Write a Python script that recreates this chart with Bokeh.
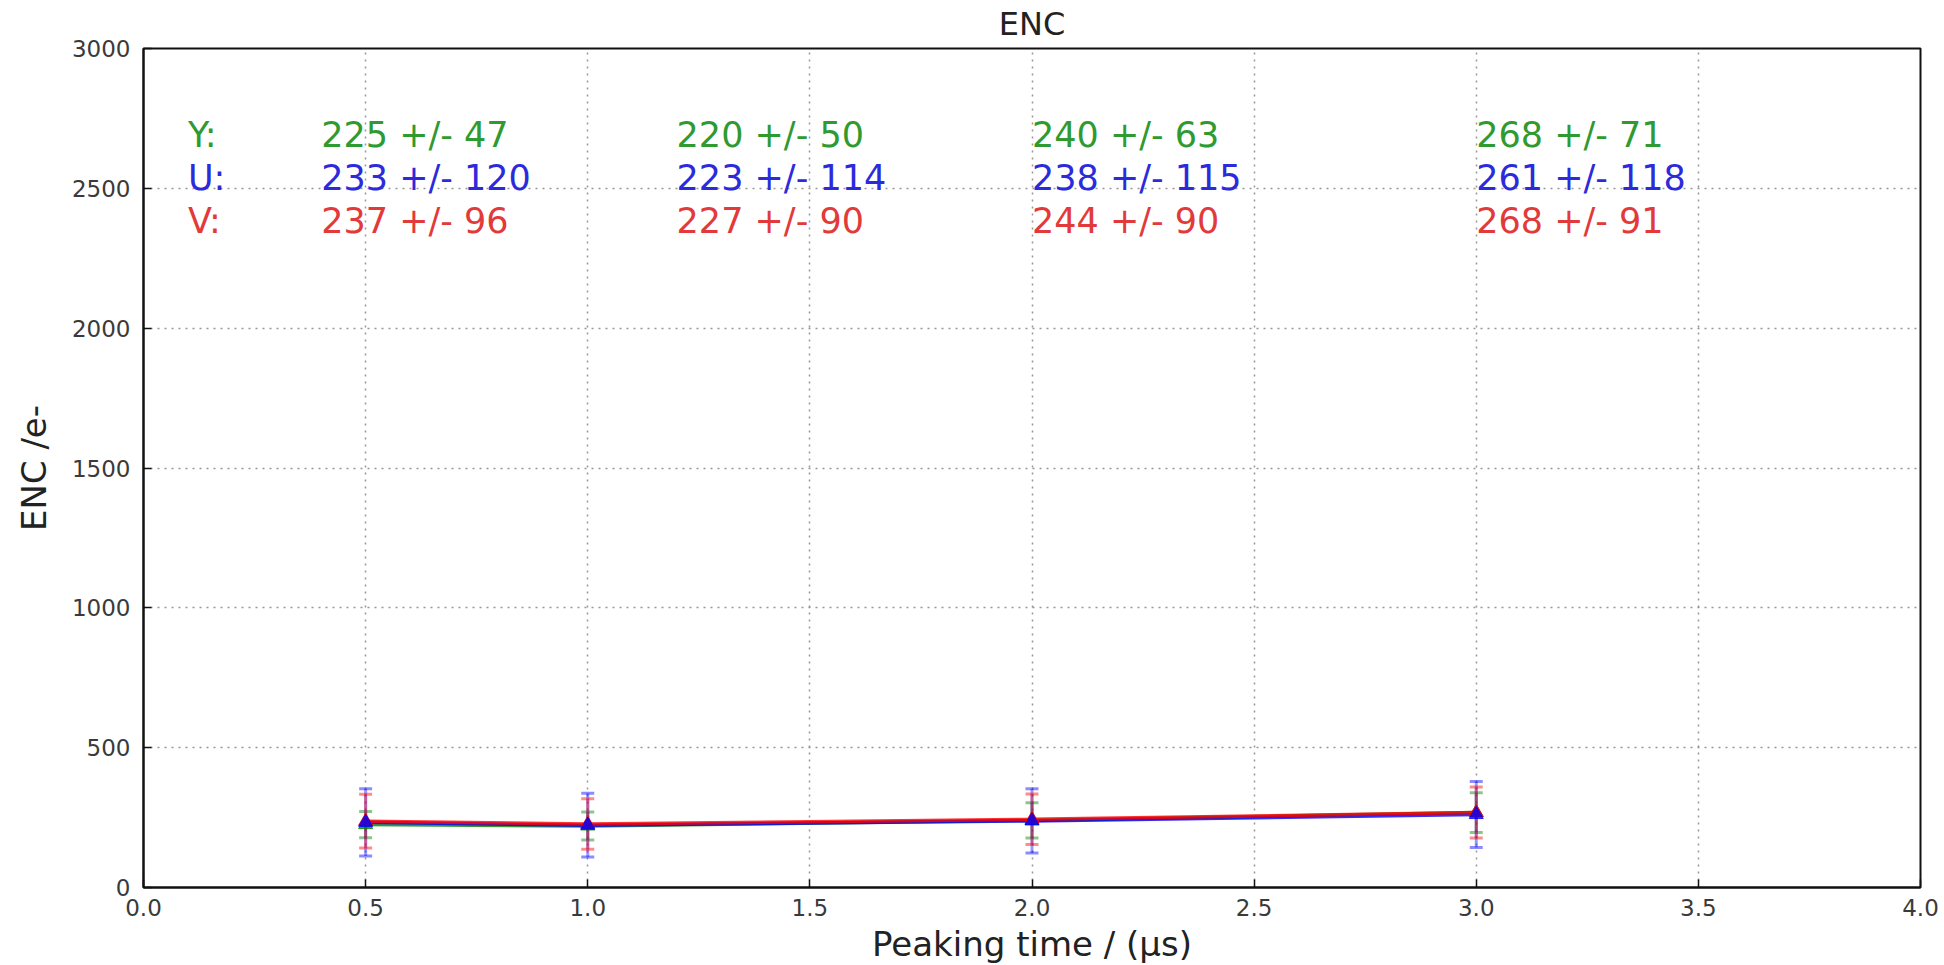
from bokeh.plotting import figure
from bokeh.models import ColumnDataSource, Whisker, TeeHead, FixedTicker, Range1d, PrintfTickFormatter
from bokeh.embed import file_html
from bokeh.resources import INLINE
from bokeh.core.properties import value

# ---- data ----
peaking_time = [0.5, 1.0, 2.0, 3.0]
planes = ["Y", "U", "V"]
enc_Y = [225, 220, 240, 268]
err_Y = [47, 50, 63, 71]
enc_U = [233, 223, 238, 261]
err_U = [120, 114, 115, 118]
enc_V = [237, 227, 244, 268]
err_V = [96, 90, 90, 91]
x_ticks = [0.0, 0.5, 1.0, 1.5, 2.0, 2.5, 3.0, 3.5, 4.0]
y_ticks = [0, 500, 1000, 1500, 2000, 2500, 3000]

# ---- layout / style ----
FONT = "DejaVu Sans"
line_colors = {"Y": "#008000", "U": "#0000ff", "V": "#ff0000"}
text_colors = {"Y": "#2f9a2f", "U": "#2b2bdc", "V": "#e23a3a"}
label_x = 0.1
col_x = [0.4, 1.2, 2.0, 3.0]
row_y = {"Y": 2692, "U": 2537, "V": 2382}

series = {"Y": (enc_Y, err_Y), "U": (enc_U, err_U), "V": (enc_V, err_V)}

p = figure(frame_width=1777, frame_height=839,
           x_range=Range1d(0, 4), y_range=Range1d(0, 3000),
           output_backend="svg", toolbar_location=None, title="ENC",
           min_border_left=143, min_border_top=48, min_border_right=20,
           min_border_bottom=60, background_fill_color="white",
           border_fill_color="white")

p.title.align = "center"
p.title.vertical_align = "top"
p.title.text_font = FONT
p.title.text_font_size = "32px"
p.title.text_font_style = "normal"
p.title.text_color = "#222222"
p.title.standoff = 8

p.outline_line_color = "#111111"
p.outline_line_width = 2
p.outline_line_alpha = 1

for ax, ticks in ((p.xaxis[0], x_ticks), (p.yaxis[0], y_ticks)):
    ax.ticker = FixedTicker(ticks=ticks)
    ax.major_tick_in = 8
    ax.major_tick_out = 0
    ax.minor_tick_line_color = None
    ax.axis_line_color = "#111111"
    ax.axis_line_width = 2
    ax.major_tick_line_color = "#111111"
    ax.major_tick_line_width = 1.5
    ax.major_label_text_font = FONT
    ax.major_label_text_font_size = "23px"
    ax.major_label_text_color = "#3a3a3a"
    ax.axis_label_text_font = FONT
    ax.axis_label_text_font_size = "34px"
    ax.axis_label_text_font_style = "normal"
    ax.axis_label_text_color = "#222222"

p.xaxis[0].formatter = PrintfTickFormatter(format="%.1f")
p.xaxis[0].axis_label = "Peaking time / (μs)"
p.xaxis[0].major_label_standoff = 11
p.xaxis[0].axis_label_standoff = 5
p.yaxis[0].axis_label = "ENC /e-"
p.yaxis[0].major_label_standoff = 13
p.yaxis[0].axis_label_standoff = 15

for g, ticks in ((p.xgrid[0], x_ticks), (p.ygrid[0], y_ticks)):
    g.ticker = FixedTicker(ticks=ticks)
    g.grid_line_color = "#8c8c8c"
    g.grid_line_dash = "2 5"
    g.grid_line_width = 1.5
    g.grid_line_alpha = 0.9

# ---- series: error bars, lines, markers ----
for name in ["Y", "U", "V"]:
    vals, errs = series[name]
    c = line_colors[name]
    src = ColumnDataSource(dict(
        x=peaking_time, y=vals,
        upper=[v + e for v, e in zip(vals, errs)],
        lower=[v - e for v, e in zip(vals, errs)]))
    w = Whisker(source=src, base="x", upper="upper", lower="lower",
                line_color=c, line_alpha=0.4, line_width=3,
                upper_head=TeeHead(size=13, line_color=c, line_alpha=0.45, line_width=3),
                lower_head=TeeHead(size=13, line_color=c, line_alpha=0.45, line_width=3))
    p.add_layout(w)
    p.line("x", "y", source=src, line_color=c, line_width=3.5, line_alpha=0.8)

for name in ["Y", "V", "U"]:
    vals, errs = series[name]
    c = line_colors[name]
    p.scatter(peaking_time, vals, marker="triangle", size=14, fill_color=c,
              line_color=c, fill_alpha=0.8, line_alpha=0.8)

# ---- annotations ----
for name in planes:
    vals, errs = series[name]
    p.text(x=[label_x], y=[row_y[name]], text=[name + ":"],
           text_font=value(FONT), text_font_size="35px",
           text_color=text_colors[name], text_baseline="middle", text_align="left")
    p.text(x=col_x, y=[row_y[name]] * len(col_x),
           text=[f"{v} +/- {e}" for v, e in zip(vals, errs)],
           text_font=value(FONT), text_font_size="35px",
           text_color=text_colors[name], text_baseline="middle", text_align="left")

open("out.html", "w").write(file_html(p, INLINE))
